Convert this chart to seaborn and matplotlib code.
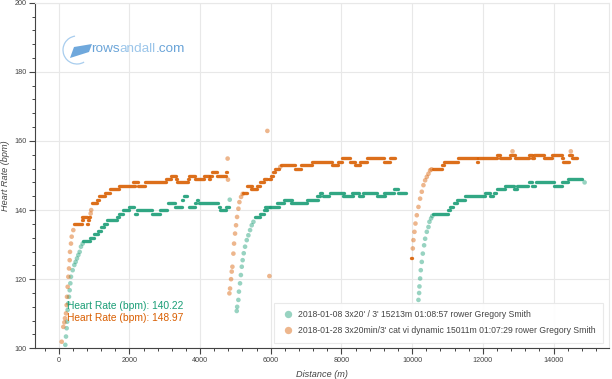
import numpy as np
import pandas as pd
import matplotlib
matplotlib.use("Agg")
import matplotlib.pyplot as plt
import seaborn as sns
from matplotlib.patches import Arc, Polygon

# --- DATA ---
LABEL_A = "2018-01-08 3x20' / 3' 15213m 01:08:57 rower Gregory Smith"
LABEL_B = "2018-01-28 3x20min/3' cat vi dynamic 15011m 01:07:29 rower Gregory Smith"
MEAN_A = 140.22
MEAN_B = 148.97

# single samples (ramps after each rest, spikes)
green_pts_d = [188, 207, 226, 240, 254, 273, 292, 311, 330, 348, 396, 443, 480, 518, 556, 594, 631, 679, 4840,
               5038, 5050, 5084, 5100, 5131, 5155, 5180, 5205, 5236, 5273, 5321, 5367, 5415, 5462, 5510,
               10179, 10198, 10207, 10226, 10245, 10273, 10302, 10339, 10368, 10415, 10462, 10490, 10537, 10570, 14880]
green_pts_hr = [101, 103.4, 105.8, 107.7, 111.1, 113, 114.9, 116.8, 118.8, 120.7, 122.6, 124.1, 125, 126, 127, 127.9, 129.4, 130.3, 143,
                110.8, 112, 114, 116.4, 118.8, 121.2, 123.6, 125.5, 127.5, 129.4, 131.3, 132.7, 134.2, 135.6, 136.6,
                114, 116, 117.9, 120.2, 122.6, 125, 127.4, 129.8, 131.7, 133.7, 135.1, 136.6, 137.6, 138.3, 148]

# constant-HR stretches: start distance, end distance, HR
green_run_start = [700, 890, 1010, 1100, 1190, 1280, 1360, 1660, 1700, 1830, 1990, 2150, 2220, 2640, 2880, 3080, 3300, 3500,
                   3540, 3650, 3680, 3860, 3900, 3970, 4530, 4570, 4720,
                   5556, 5700, 5800, 5850, 5990, 6190, 6370, 6580, 7020, 7300, 7400, 7480, 7680, 8040, 8300, 8500, 8600,
                   9020, 9200, 9500, 9600,
                   10600, 11020, 11060, 11180, 11270, 11500, 12070, 12190, 12330, 12400, 12640, 12880, 12970, 13300,
                   13400, 13510, 14020, 14240, 14420]
green_run_end = [890, 1010, 1100, 1190, 1280, 1360, 1660, 1720, 1830, 1990, 2130, 2220, 2640, 2880, 3070, 3300, 3490, 3520,
                 3630, 3660, 3850, 3880, 3950, 4520, 4570, 4720, 4820,
                 5700, 5800, 5880, 5980, 6220, 6370, 6600, 7020, 7350, 7400, 7450, 7660, 8060, 8320, 8500, 8600, 9000,
                 9240, 9480, 9600, 9830,
                 11020, 11060, 11170, 11260, 11500, 12070, 12190, 12300, 12360, 12630, 12870, 12960, 13290, 13390,
                 13480, 14000, 14240, 14400, 14810]
green_run_hr = [131, 132, 133, 134, 135, 136, 137, 138, 139, 140, 141, 139, 140, 139, 140, 142, 141, 143,
                144, 142, 141, 142, 143, 142, 141, 140, 141,
                138, 139, 140, 141, 141, 142, 143, 142, 143, 144, 145, 144, 145, 144, 145, 144, 145,
                144, 145, 146, 145,
                139, 140, 141, 142, 143, 144, 145, 144, 145, 146, 147, 146, 147, 148,
                147, 148, 147, 148, 149]

orange_pts_d = [85, 131, 160, 178, 207, 226, 235, 254, 273, 292, 311, 320, 348, 368, 414, 905, 920, 4780, 4790,
                4830, 4849, 4877, 4896, 4915, 4943, 4962, 4990, 5018, 5047, 5085, 5113, 5160, 5207, 5904, 5961, 6270,
                10019, 10037, 10066, 10094, 10132, 10179, 10226, 10273, 10320, 10368, 10415, 10462, 10509, 10550,
                12840, 14490]
orange_pts_hr = [101.9, 106.2, 107.5, 108.7, 110.1, 112.5, 114.9, 117.8, 120.7, 123.1, 125.5, 127.9, 130.3, 132.3, 134.2, 139, 140, 154.9, 148.8,
                 115.9, 117.3, 120, 122.2, 123.6, 127.4, 130.3, 133.2, 135.6, 138, 140.4, 142.3, 143.8, 144.7, 162.9, 120.9, 152.5,
                 128.9, 131.3, 133.7, 136.1, 138.5, 140.9, 143.3, 145.3, 147.2, 148.6, 149.6, 150.5, 151.5, 151.8,
                 157, 157]

orange_run_start = [440, 650, 668, 800, 840, 850, 934, 1075, 1150, 1300, 1450, 1700, 2110, 2240, 2440, 3050, 3180, 3310,
                    3340, 3670, 3700, 3860, 4100, 4240, 4290, 4350, 4480, 4720,
                    5226, 5330, 5440, 5610, 5700, 5800, 5950, 6010, 6070, 6130, 6300, 6700, 6860, 7160, 7726, 7900,
                    8010, 8245, 8390, 8530, 8720, 9210, 9380,
                    9960, 10600, 10840, 10900, 11310, 11830, 11870, 12400, 12490, 12774, 12916, 13293, 13387, 13435,
                    13718, 13953, 14236, 14265, 14425, 14520]
orange_run_end = [650, 700, 792, 830, 860, 900, 1075, 1150, 1300, 1450, 1700, 2160, 2250, 2440, 3050, 3180, 3310, 3340,
                  3670, 3700, 3860, 4100, 4240, 4290, 4350, 4480, 4720, 4770,
                  5330, 5460, 5610, 5700, 5800, 5880, 6010, 6070, 6120, 6240, 6690, 6860, 7160, 7726, 7900, 8010,
                  8245, 8390, 8530, 8720, 9210, 9380, 9520,
                  9995, 10840, 10900, 11310, 11830, 11870, 12390, 12490, 12774, 12916, 13293, 13387, 13435, 13718,
                  13953, 14236, 14265, 14425, 14520, 14661]
orange_run_hr = [136, 137, 138, 136, 137, 138, 142, 143, 144, 145, 146, 147, 148, 147, 148, 149, 150, 149,
                 148, 149, 150, 149, 150, 149, 150, 151, 150, 151,
                 145, 147, 146, 147, 148, 149, 149, 150, 151, 152, 153, 152, 153, 154, 153, 154,
                 155, 154, 153, 154, 155, 154, 155,
                 126, 152, 153, 154, 155, 154, 155, 156, 155, 156, 155, 156, 155, 156,
                 155, 156, 155, 154, 156, 155]

X_TICKS = [0, 2000, 4000, 6000, 8000, 10000, 12000, 14000]
Y_TICKS = [100, 120, 140, 160, 180, 200]

GREEN = "#1b9e77"
ORANGE = "#d95f02"

sns.set_theme(style="white")
plt.rcParams['font.family'] = ['Liberation Sans', 'DejaVu Sans']

fig = plt.figure(figsize=(6.12, 3.79), dpi=100)
ax = fig.add_axes([35 / 612, 1 - 348.3 / 379, 574 / 612, 345.6 / 379])

pts = pd.concat([
    pd.DataFrame({'d': green_pts_d, 'hr': green_pts_hr, 'series': LABEL_A}),
    pd.DataFrame({'d': orange_pts_d, 'hr': orange_pts_hr, 'series': LABEL_B}),
])
sns.scatterplot(data=pts, x='d', y='hr', hue='series', palette=[GREEN, ORANGE],
                s=11, alpha=0.45, linewidth=0, ax=ax, zorder=3)

# flat stretches: the samples overlap into a solid band
for st, en, hr, col in [(green_run_start, green_run_end, green_run_hr, GREEN),
                        (orange_run_start, orange_run_end, orange_run_hr, ORANGE)]:
    lc = ax.hlines(hr, st, en, colors=col, linewidth=2.4, alpha=0.9, zorder=3)
    lc.set_capstyle('round')

ax.set_xlim(-670, 15570)
ax.set_ylim(100, 200)
ax.set_xticks(X_TICKS)
ax.set_yticks(Y_TICKS)
ax.set_xticks(np.arange(-400, 15600, 400), minor=True)
ax.set_yticks(np.arange(100, 201, 4), minor=True)
ax.tick_params(axis='both', which='major', direction='out', length=4, width=0.8,
               color='#444444', labelsize=5.2, labelcolor='#444444', pad=2)
ax.tick_params(axis='both', which='minor', direction='out', length=2.5, width=0.7, color='#444444')
ax.tick_params(bottom=True, left=True, which='both')
ax.grid(True, which='major', color='#e8e8e8', linewidth=0.8)
ax.set_axisbelow(True)
for side in ['left', 'bottom']:
    ax.spines[side].set_color('#444444')
    ax.spines[side].set_linewidth(0.8)
for side in ['top', 'right']:
    ax.spines[side].set_color('#e8e8e8')
    ax.spines[side].set_linewidth(0.8)

ax.set_xlabel('Distance (m)', fontsize=6.6, style='italic', color='#444444')
ax.set_ylabel('Heart Rate (bpm)', fontsize=6.6, style='italic', color='#444444')
ax.xaxis.set_label_coords(0.5, -(370 - 348.3) / 345.6)
ax.yaxis.set_label_coords(-(25 / 574), 0.5)

ax.text(226, 112.2, f'Heart Rate (bpm): {MEAN_A}', color=GREEN, fontsize=7.4, va='center', ha='left', zorder=4)
ax.text(226, 108.7, f'Heart Rate (bpm): {MEAN_B}', color=ORANGE, fontsize=7.4, va='center', ha='left', zorder=4)

leg = ax.legend(loc='lower right', bbox_to_anchor=(0.99, 0.015), borderaxespad=0, fontsize=6.25,
                frameon=True, fancybox=False, framealpha=0.95, edgecolor='#e8e8e8',
                handletextpad=0.3, handlelength=1.6, markerscale=1.6, borderpad=0.9, labelspacing=0.8)
leg.get_frame().set_linewidth(0.8)
for t in leg.get_texts():
    t.set_color('#444444')

# watermark logo
fig.patches.append(Arc((77 / 612, 1 - 50 / 379), 28 / 612, 28 / 379, theta1=95, theta2=290,
                       transform=fig.transFigure, color='#a8cdee', linewidth=0.9))
fig.patches.append(Polygon([(70 / 612, 1 - 58 / 379), (74 / 612, 1 - 47 / 379), (92 / 612, 1 - 44 / 379),
                            (89 / 612, 1 - 52 / 379)], closed=True, transform=fig.transFigure,
                           facecolor='#6fa8dc', edgecolor='none'))
renderer = fig.canvas.get_renderer()
x0 = 91 / 612
for part, col in [('rows', '#6aa4d8'), ('andall', '#9cc6ea'), ('.com', '#6aa4d8')]:
    t = fig.text(x0, 1 - 49 / 379, part, color=col, fontsize=9.7, va='center', ha='left')
    bb = t.get_window_extent(renderer=renderer)
    x0 = bb.x1 / fig.bbox.width

fig.savefig('out.png', dpi=100)
